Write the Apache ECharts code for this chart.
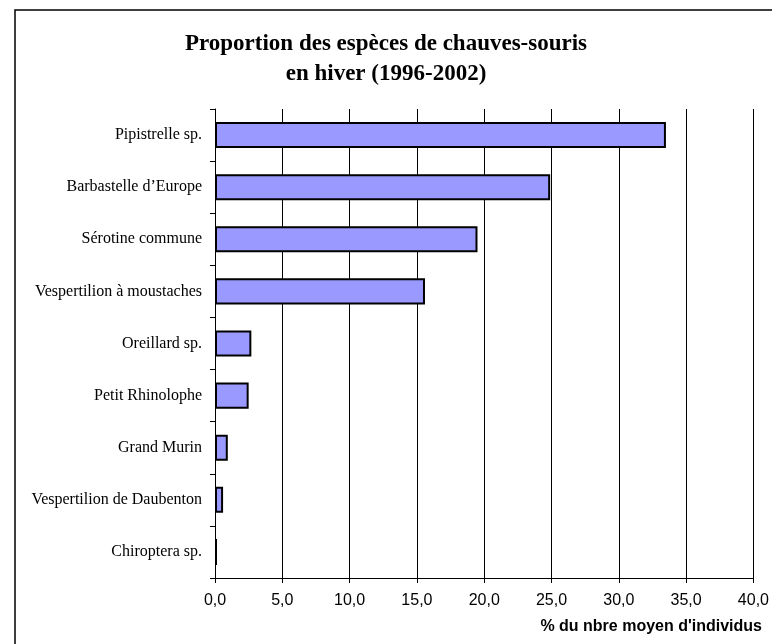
<!DOCTYPE html>
<html>
<head>
<meta charset="utf-8">
<script src="https://cdn.jsdelivr.net/npm/echarts@6/dist/echarts.min.js"></script>
<style>
  html, body { margin: 0; padding: 0; background: #fff; }
  #chart { width: 772px; height: 644px; }
</style>
</head>
<body>
<div id="chart"></div>
<script>
// Species wintering counts, share of the mean number of individuals (%)
const categories = [
  'Pipistrelle sp.',
  'Barbastelle d\u2019Europe',
  'Sérotine commune',
  'Vespertilion à moustaches',
  'Oreillard sp.',
  'Petit Rhinolophe',
  'Grand Murin',
  'Vespertilion de Daubenton',
  'Chiroptera sp.'
];
const shares = [33.5, 24.9, 19.5, 15.6, 2.7, 2.5, 0.95, 0.6, 0.15];

const titleLines = ['Proportion des espèces de chauves-souris', 'en hiver (1996-2002)'];
const axisTitle = "% du nbre moyen d'individus";

const chart = echarts.init(document.getElementById('chart'), null, { renderer: 'canvas' });

chart.setOption({
  backgroundColor: '#ffffff',
  animation: false,
  title: {
    text: titleLines.join('\n'),
    left: 'center',
    top: 24,
    textStyle: {
      fontFamily: 'Liberation Serif',
      fontWeight: 'bold',
      fontSize: 23,
      lineHeight: 30,
      color: '#000'
    }
  },
  grid: { left: 215, right: 16, top: 109, bottom: 66, containLabel: false },
  xAxis: {
    type: 'value',
    min: 0,
    max: 40,
    interval: 5,
    axisLine: { show: true, lineStyle: { color: '#000', width: 1 } },
    axisTick: { show: true, length: 5, lineStyle: { color: '#000' } },
    axisLabel: {
      margin: 15,
      fontFamily: 'Liberation Sans',
      fontSize: 16,
      color: '#000',
      formatter: v => v.toFixed(1).replace('.', ',')
    },
    splitLine: { show: true, lineStyle: { color: '#000', width: 1 } }
  },
  yAxis: {
    type: 'category',
    data: categories,
    inverse: true,
    axisLine: { show: true, lineStyle: { color: '#000', width: 1 } },
    axisTick: { show: true, length: 5, lineStyle: { color: '#000' } },
    axisLabel: {
      margin: 13,
      fontFamily: 'Liberation Serif',
      fontSize: 16,
      color: '#000'
    },
    splitLine: { show: false }
  },
  series: [{
    type: 'bar',
    data: shares,
    barCategoryGap: '50%',
    itemStyle: { color: '#9999ff', borderColor: '#000', borderWidth: 2 }
  }],
  graphic: [
    {
      type: 'rect',
      shape: { x: 15, y: 10, width: 800, height: 700 },
      style: { fill: null, stroke: '#000', lineWidth: 1.5 },
      silent: true
    },
    {
      type: 'text',
      right: 10,
      top: 619,
      style: {
        text: axisTitle,
        fontFamily: 'Liberation Sans',
        fontWeight: 'bold',
        fontSize: 16,
        fill: '#000'
      }
    }
  ]
});
</script>
</body>
</html>
